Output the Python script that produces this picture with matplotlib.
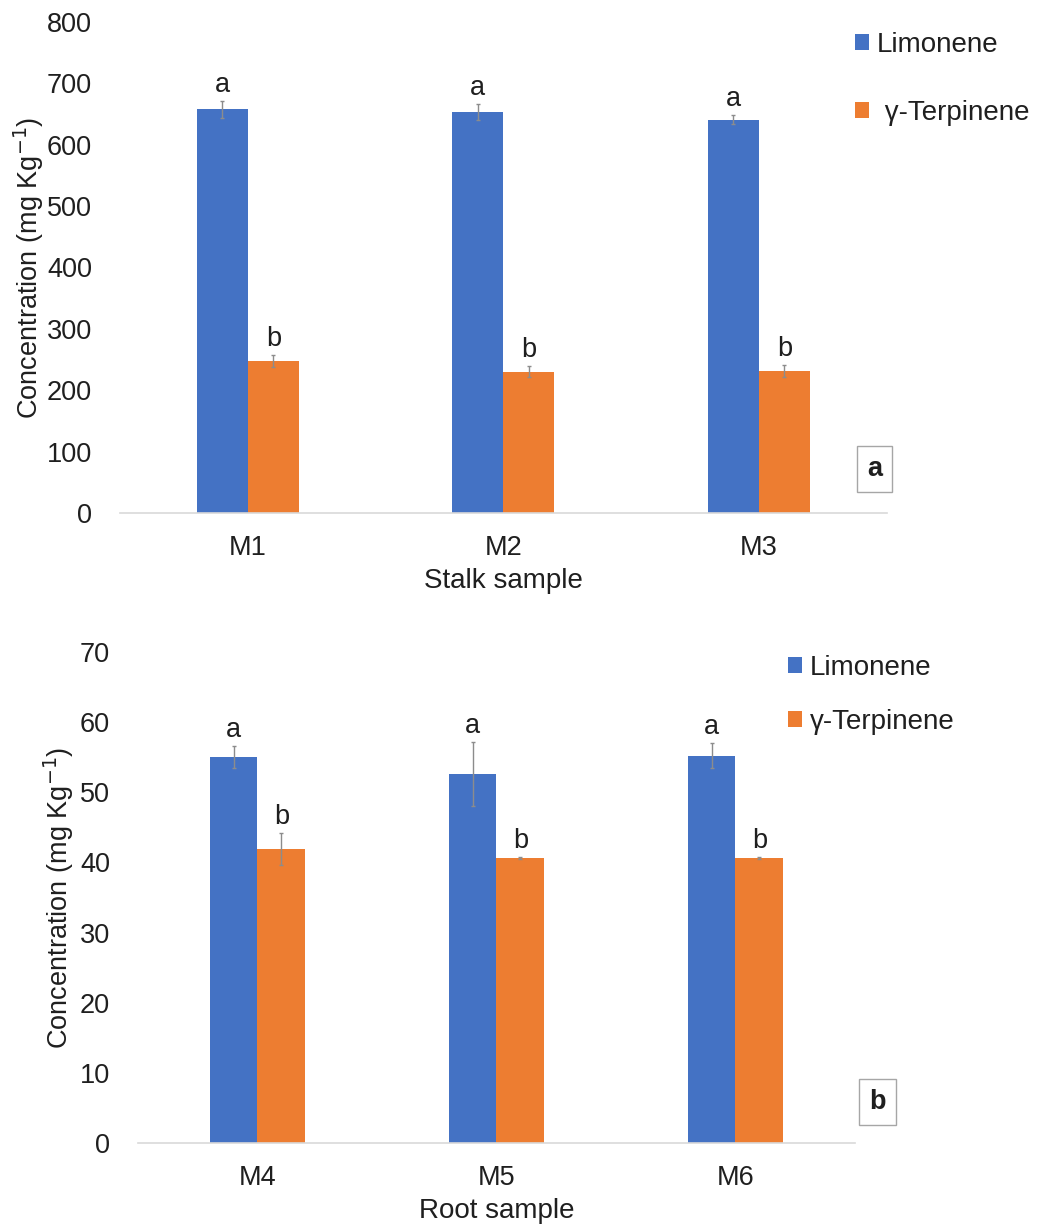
import numpy as np
import matplotlib
matplotlib.use('Agg')
import matplotlib.pyplot as plt

plt.rcParams['font.family'] = ['Liberation Sans', 'DejaVu Sans']

## DATA SECTION

series = ['Limonene', 'γ-Terpinene']

# stalk samples (panel a)
stalk_samples = ['M1', 'M2', 'M3']
stalk_limonene = [658, 654, 641]
stalk_limonene_err = [14, 13, 7]
stalk_terpinene = [248, 230, 231]
stalk_terpinene_err = [10, 9, 10]
stalk_letters = [['a', 'a', 'a'], ['b', 'b', 'b']]

# root samples (panel b)
root_samples = ['M4', 'M5', 'M6']
root_limonene = [55.0, 52.6, 55.2]
root_limonene_err = [1.6, 4.6, 1.8]
root_terpinene = [41.9, 40.6, 40.6]
root_terpinene_err = [2.3, 0.1, 0.1]
root_letters = [['a', 'a', 'a'], ['b', 'b', 'b']]

colors = ['#4472C4', '#ED7D31']
txt = '#1f1f1f'


## PLOTTING SECTION

def draw_panel(ax, samples, vals, errs, letters, ymax, ystep, xlabel, tag):
    x = np.arange(len(samples))
    w = 0.2
    offsets = [-w / 2, w / 2]
    for i in range(2):
        ax.bar(x + offsets[i], vals[i], width=w, color=colors[i], label=series[i], zorder=2)
        ax.errorbar(x + offsets[i], vals[i], yerr=errs[i], fmt='none', ecolor='#8c8c8c',
                    elinewidth=1, capsize=1.5, capthick=1, zorder=3)
        for j in range(len(samples)):
            ax.annotate(letters[i][j], (x[j] + offsets[i], vals[i][j] + errs[i][j]),
                        xytext=(0, 6.5), textcoords='offset points', ha='center',
                        va='baseline', fontsize=19.5, color=txt)
    ax.set_xlim(-0.5, len(samples) - 0.5)
    ax.set_ylim(0, ymax)
    ax.set_yticks(np.arange(0, ymax + ystep, ystep))
    ax.set_xticks(x)
    ax.set_xticklabels(samples)
    for s in ['top', 'right', 'left']:
        ax.spines[s].set_visible(False)
    ax.spines['bottom'].set_color('#d9d9d9')
    ax.spines['bottom'].set_linewidth(1.2)
    ax.tick_params(axis='both', length=0, labelsize=19.5, colors=txt)
    ax.tick_params(axis='y', pad=20)
    ax.tick_params(axis='x', pad=16)
    ax.set_xlabel(xlabel, fontsize=20, color=txt, labelpad=5)
    ax.set_ylabel('Concentration (mg Kg$^{-1}$)', fontsize=19.5, color=txt)
    ax.text(1.0, 0.0, tag, transform=ax.transAxes, fontsize=19.5, fontweight='bold',
            ha='center', va='center', color=txt,
            bbox=dict(boxstyle='square,pad=0.38', facecolor='white', edgecolor='#a6a6a6', lw=1))


fig = plt.figure(figsize=(10.46, 12.27), dpi=100)

ax1 = fig.add_axes([0.1147, 0.5819, 0.733, 0.4002])
draw_panel(ax1, stalk_samples, [stalk_limonene, stalk_terpinene],
           [stalk_limonene_err, stalk_terpinene_err], stalk_letters, 800, 100, 'Stalk sample', 'a')
ax1.texts[-1].set_position((0.984, 0.09))
ax1.yaxis.set_label_coords(-0.097, 0.5)

ax2 = fig.add_axes([0.1319, 0.0685, 0.6855, 0.4002])
draw_panel(ax2, root_samples, [root_limonene, root_terpinene],
           [root_limonene_err, root_terpinene_err], root_letters, 70, 10, 'Root sample', 'b')
ax2.texts[-1].set_position((1.031, 0.0835))
ax2.yaxis.set_label_coords(-0.086, 0.5)

leg_kw = dict(loc='center left', frameon=False, fontsize=20, handlelength=0.5,
              handleheight=0.5, handletextpad=0.3, borderpad=0, borderaxespad=0,
              labelcolor=txt)
h1, l1 = ax1.get_legend_handles_labels()
fig.legend(h1, [l1[0], ' ' + l1[1]], bbox_to_anchor=(0.8174, 0.9356),
           labelspacing=1.5, **leg_kw)
h2, l2 = ax2.get_legend_handles_labels()
fig.legend(h2, l2, bbox_to_anchor=(0.7533, 0.4336),
           labelspacing=1.0, **leg_kw)

plt.savefig('out.png', dpi=100)
plt.close()
